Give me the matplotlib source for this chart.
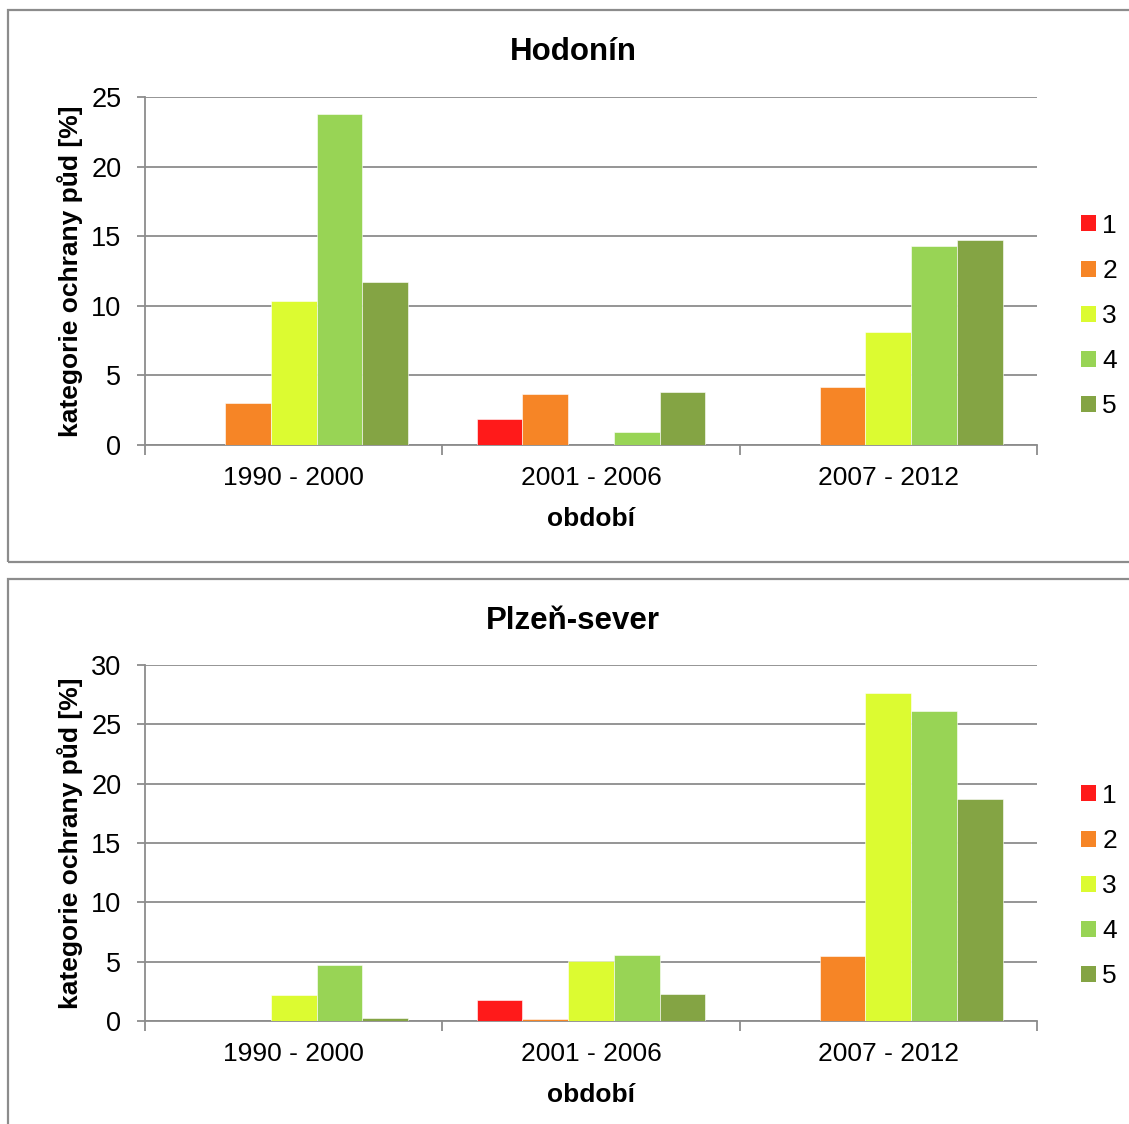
import numpy as np
import matplotlib
matplotlib.use("Agg")
import matplotlib.pyplot as plt
from matplotlib.patches import Rectangle, Patch

plt.rcParams['font.family'] = ['Liberation Sans', 'DejaVu Sans']

periods = ["1990 - 2000", "2001 - 2006", "2007 - 2012"]
categories = ["1", "2", "3", "4", "5"]
colors = ["#FF1A1A", "#F68526", "#DCFB31", "#98D455", "#84A444"]

# values per category (rows) for each period (columns)
hodonin = [
    [0.0, 1.9, 0.0],
    [3.0, 3.65, 4.15],
    [10.35, 0.0, 8.1],
    [23.8, 0.93, 14.3],
    [11.7, 3.8, 14.7],
]
plzen = [
    [0.0, 1.77, 0.0],
    [0.0, 0.17, 5.48],
    [2.19, 5.05, 27.6],
    [4.72, 5.56, 26.1],
    [0.25, 2.27, 18.7],
]

W, H = 1129, 1124
fig = plt.figure(figsize=(W / 100, H / 100), dpi=100)

def px(x0, y0, x1, y1):
    return [x0 / W, 1 - y1 / H, (x1 - x0) / W, (y1 - y0) / H]

# chart frames
for (x0, y0, x1, y1) in [(8, 10, 1140, 562), (8, 579, 1140, 1140)]:
    fig.patches.append(Rectangle((x0 / W, 1 - y1 / H), (x1 - x0) / W, (y1 - y0) / H,
                                 transform=fig.transFigure, fill=False,
                                 edgecolor="#8c8c8c", linewidth=1.6))

grid_c = "#8c8c8c"
bw = 0.154
x = np.arange(len(periods))


def draw(rect, data, title, ymax, title_y, leg_y):
    ax = fig.add_axes(rect)
    for i, vals in enumerate(data):
        ax.bar(x + (i - 2) * bw, vals, bw, color=colors[i], label=categories[i],
               edgecolor="white", linewidth=0.4, zorder=3)
    ax.set_xlim(-0.5, 2.5)
    ax.set_ylim(0, ymax)
    ax.set_yticks(np.arange(0, ymax + 1, 5))
    ax.yaxis.grid(True, color=grid_c, linewidth=1.3, zorder=0)
    ax.set_xticks(x)
    ax.set_xticklabels(periods)
    ax.set_xticks([-0.5, 0.5, 1.5, 2.5], minor=True)
    ax.tick_params(axis='x', which='major', length=0, labelsize=19, pad=15)
    ax.tick_params(axis='x', which='minor', length=7, width=1.3, color=grid_c, direction='out')
    ax.tick_params(axis='y', length=6, width=1.3, color=grid_c, labelsize=19.5, pad=11)
    for s in ["top", "right"]:
        ax.spines[s].set_visible(False)
    for s in ["left", "bottom"]:
        ax.spines[s].set_color(grid_c)
        ax.spines[s].set_linewidth(1.3)
    ax.set_xlabel("období", fontsize=19, fontweight='bold', labelpad=12)
    ax.set_ylabel("kategorie ochrany půd [%]", fontsize=19, fontweight='bold', labelpad=6)
    fig.text(573 / W, 1 - title_y / H, title, fontsize=22.5, fontweight='bold',
             ha='center', va='center')
    handles = [Patch(facecolor=c, edgecolor='none') for c in colors]
    fig.legend(handles, categories, loc='center left',
               bbox_to_anchor=(1068 / W, 1 - leg_y / H), frameon=False,
               fontsize=19, handlelength=0.55, handleheight=0.55,
               handletextpad=0.25, labelspacing=0.8, borderpad=0)
    return ax


draw(px(145, 97, 1037, 445), hodonin, "Hodonín", 25, 52, 316)
draw(px(145, 665, 1037, 1021), plzen, "Plzeň-sever", 30, 621, 886)

fig.savefig("out.png", dpi=100)
